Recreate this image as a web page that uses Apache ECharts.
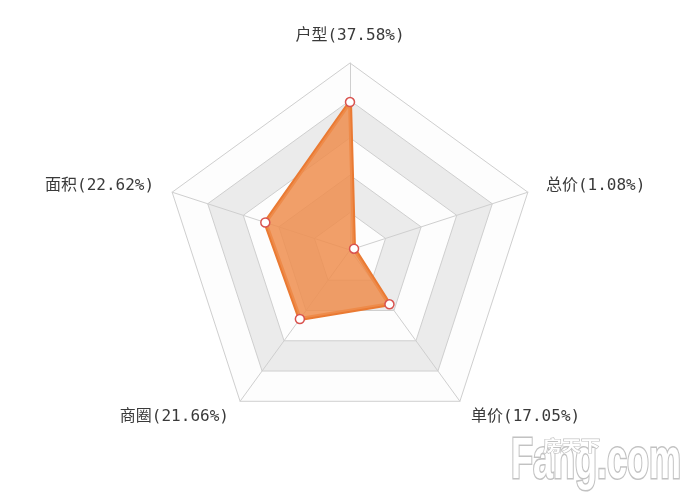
<!DOCTYPE html>
<html><head><meta charset="utf-8">
<script src="https://cdn.jsdelivr.net/npm/echarts@6/dist/echarts.min.js"></script>
<style>html,body{margin:0;padding:0;background:#fff}#c{width:700px;height:500px}</style>
</head><body><div id="c"></div>
<script>
// Indicators in counterclockwise order starting at the top
const indicatorNames = ['户型', '面积', '商圈', '单价', '总价'];
const shareValues = [37.58, 22.62, 21.66, 17.05, 1.08];
const axisMax = 47.5;

const chart = echarts.init(document.getElementById('c'), null, {renderer: 'canvas'});
chart.setOption({
  backgroundColor: '#ffffff',
  animation: false,
  radar: {
    center: ['50%', '50%'],
    radius: 187,
    startAngle: 90,
    splitNumber: 5,
    shape: 'polygon',
    nameGap: 19,
    indicator: indicatorNames.map((n, i) => ({
      name: n + '(' + shareValues[i].toFixed(2) + '%)',
      max: axisMax,
      min: 0
    })),
    axisName: {
      color: '#3a3a3a',
      fontSize: 16,
      fontFamily: '"DejaVu Sans Mono", "Noto Sans CJK SC", monospace'
    },
    axisLine: {lineStyle: {color: '#cfcfcf', width: 1}},
    splitLine: {lineStyle: {color: '#cfcfcf', width: 1}},
    splitArea: {show: true, areaStyle: {color: ['#fdfdfd', '#ebebeb']}}
  },
  graphic: [
    {
      type: 'text', x: 511, y: 462, scaleX: 1, scaleY: 1.6,
      style: {
        text: 'Fang.com', fontSize: 36, fontWeight: 'bold',
        fontFamily: '"Liberation Sans", Arial, sans-serif',
        verticalAlign: 'middle', align: 'left',
        fill: '#ffffff', stroke: '#c2c2c2', lineWidth: 2
      }
    },
    {
      type: 'text', x: 543, y: 445, scaleX: 1, scaleY: 0.8,
      style: {
        text: '房天下', fontSize: 19, fontWeight: 'bold',
        fontFamily: '"Noto Sans CJK SC", sans-serif',
        verticalAlign: 'middle', align: 'left',
        fill: '#ffffff', stroke: '#c2c2c2', lineWidth: 1.5
      }
    }
  ],
  series: [{
    type: 'radar',
    symbol: 'circle',
    symbolSize: 9,
    itemStyle: {color: '#ffffff', borderColor: '#d9534f', borderWidth: 1.5},
    lineStyle: {color: '#ea7a33', width: 4},
    areaStyle: {color: '#ee8e4f', opacity: 0.85},
    data: [{value: shareValues}]
  }]
});
</script>
</body></html>
